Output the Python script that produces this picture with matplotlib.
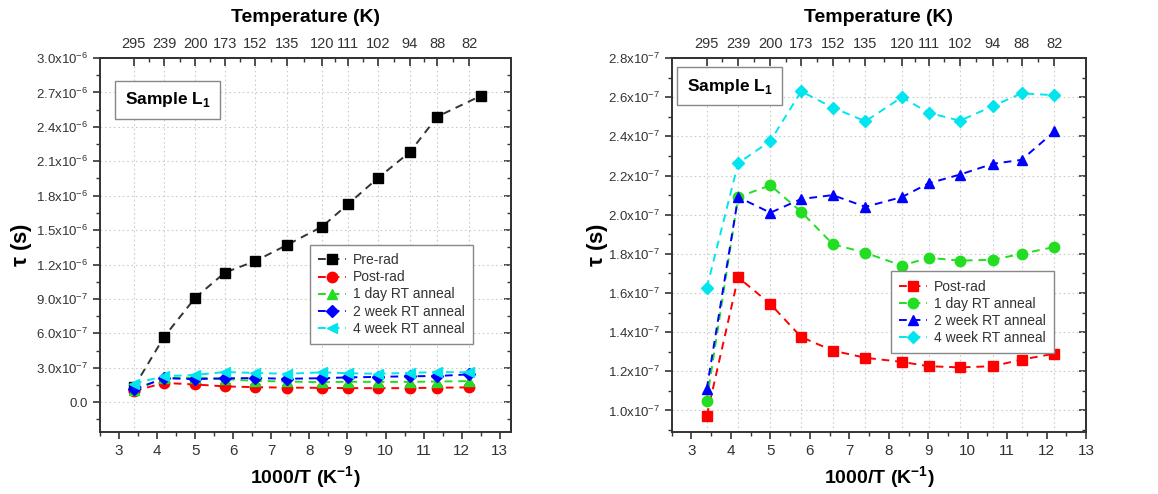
import matplotlib
matplotlib.use('Agg')
import matplotlib.pyplot as plt
from matplotlib.ticker import FixedLocator, MultipleLocator, FuncFormatter
import numpy as np

plt.rcParams['font.family'] = ['Liberation Sans', 'DejaVu Sans']
plt.rcParams['mathtext.fontset'] = 'custom'
plt.rcParams['mathtext.rm'] = 'Liberation Sans'
plt.rcParams['mathtext.bf'] = 'Liberation Sans:bold'

# temperatures (K) of the measurements, top axis labels
temps = [295, 239, 200, 173, 152, 135, 120, 111, 102, 94, 88, 82]
pre_temps = [295, 239, 200, 173, 152, 135, 120, 111, 102, 94, 88, 80]

# lifetimes tau (s)
pre_rad = [1.3e-7, 5.7e-7, 9.1e-7, 1.13e-6, 1.23e-6, 1.37e-6, 1.53e-6, 1.725e-6,
           1.955e-6, 2.18e-6, 2.49e-6, 2.67e-6]
post_rad = [0.973e-7, 1.68e-7, 1.544e-7, 1.375e-7, 1.306e-7, 1.269e-7, 1.248e-7,
            1.226e-7, 1.22e-7, 1.226e-7, 1.26e-7, 1.29e-7]
day1 = [1.05e-7, 2.09e-7, 2.15e-7, 2.015e-7, 1.85e-7, 1.805e-7, 1.74e-7, 1.78e-7,
        1.765e-7, 1.77e-7, 1.80e-7, 1.835e-7]
week2 = [1.11e-7, 2.09e-7, 2.01e-7, 2.08e-7, 2.10e-7, 2.04e-7, 2.09e-7, 2.16e-7,
         2.205e-7, 2.26e-7, 2.28e-7, 2.425e-7]
week4 = [1.626e-7, 2.263e-7, 2.376e-7, 2.63e-7, 2.547e-7, 2.477e-7, 2.60e-7, 2.52e-7,
         2.48e-7, 2.555e-7, 2.62e-7, 2.61e-7]

x_t = [1000.0 / t for t in temps]
x_pre = [1000.0 / t for t in pre_temps]

BLACK, RED, GREEN, BLUE, CYAN = 'black', '#ff0000', '#22dd22', '#0000ff', '#00e5ee'
TXT = '#333333'


def sci_label(v, pos):
    if abs(v) < 1e-12:
        return '0.0'
    e = int(np.floor(np.log10(abs(v))))
    m = v / 10 ** e
    return r'%.1fx10$^{%d}$' % (m, e)


def style_axes(ax, ylim, ymajor, xlim, ylab_x):
    ax.set_xlim(*xlim)
    ax.set_ylim(*ylim)
    ax.xaxis.set_major_locator(MultipleLocator(1))
    ax.xaxis.set_minor_locator(MultipleLocator(0.5))
    ax.yaxis.set_major_locator(MultipleLocator(ymajor))
    ax.yaxis.set_minor_locator(MultipleLocator(ymajor / 2))
    ax.yaxis.set_major_formatter(FuncFormatter(sci_label))
    ax.tick_params(axis='x', which='both', direction='out', top=False, labelsize=11, colors=TXT, labelcolor=TXT)
    ax.tick_params(axis='y', which='both', direction='out', right=False, labelsize=9.5, colors=TXT, labelcolor=TXT)
    ax.tick_params(which='major', length=5, width=1.2)
    ax.tick_params(which='minor', length=3, width=1.0)
    for s in ax.spines.values():
        s.set_linewidth(1.4)
        s.set_color(TXT)
    # right spine ticks pointing inward
    ry = ax.secondary_yaxis('right')
    ry.yaxis.set_major_locator(MultipleLocator(ymajor))
    ry.yaxis.set_minor_locator(MultipleLocator(ymajor / 2))
    ry.tick_params(which='both', direction='in', labelright=False, colors=TXT)
    ry.tick_params(which='major', length=5, width=1.2)
    ry.tick_params(which='minor', length=3, width=1.0)
    ry.spines['right'].set_linewidth(1.4)
    ry.spines['right'].set_color(TXT)
    # top temperature axis
    top = ax.secondary_xaxis('top')
    top.xaxis.set_major_locator(FixedLocator(x_t))
    top.set_xticklabels([str(t) for t in temps])
    mids = [(a + b) / 2 for a, b in zip(x_t[:-1], x_t[1:])]
    top.xaxis.set_minor_locator(FixedLocator(mids))
    top.tick_params(which='both', direction='in', labelsize=10.5, colors=TXT, labelcolor=TXT, pad=5)
    top.tick_params(which='major', length=6, width=1.2)
    top.tick_params(which='minor', length=3, width=1.0)
    top.spines['top'].set_linewidth(1.4)
    top.spines['top'].set_color(TXT)
    top.set_xlabel('Temperature (K)', fontsize=14, fontweight='bold', labelpad=11)
    # dotted grid: vertical at temperature positions, horizontal at major y ticks
    for xv in x_t:
        ax.axvline(xv, color='#cccccc', lw=0.8, ls=(0, (1.5, 2.5)), zorder=0)
    ax.yaxis.grid(True, color='#cccccc', lw=0.8, ls=(0, (1.5, 2.5)), zorder=0)
    ax.set_xlabel(r'1000/T (K$^{\mathbf{-1}}$)', fontsize=14, fontweight='bold', labelpad=5)
    ax.set_ylabel(r'$\mathbf{\tau}$ (s)', fontsize=16, fontweight='bold', va='center')
    ax.yaxis.set_label_coords(ylab_x, 0.5)


fig = plt.figure(figsize=(11.58, 4.94), dpi=100)
axL = fig.add_axes([0.0864, 0.1255, 0.355, 0.757])
axR = fig.add_axes([0.580, 0.1255, 0.358, 0.757])

kw = dict(ls='--', lw=1.4, markersize=7.5, dashes=(4, 3))
legkw = dict(loc='upper left', fontsize=10, frameon=True, fancybox=False, framealpha=1,
             edgecolor='#888888', handlelength=2.0, labelspacing=0.22, borderpad=0.6,
             handletextpad=0.5, borderaxespad=0)

# left panel
style_axes(axL, (-0.26e-6, 3.0e-6), 0.3e-6, (2.5, 13.3), -0.19)
axL.plot(x_pre, pre_rad, color='#333333', marker='s', mfc=BLACK, mec=BLACK, label='Pre-rad', **kw)
axL.plot(x_t, post_rad, color=RED, marker='o', label='Post-rad', **kw)
axL.plot(x_t, day1, color=GREEN, marker='^', label='1 day RT anneal', **kw)
axL.plot(x_t, week2, color=BLUE, marker='D', markersize=6.5, ls='--', lw=1.4, dashes=(4, 3), label='2 week RT anneal')
axL.plot(x_t, week4, color=CYAN, marker='<', label='4 week RT anneal', **kw)
legL = axL.legend(bbox_to_anchor=(0.51, 0.50), **legkw)
legL.get_frame().set_linewidth(1.0)
for t in legL.get_texts():
    t.set_color(TXT)
axL.text(0.165, 0.888, r'Sample L$_{\mathbf{1}}$', transform=axL.transAxes, fontsize=12.5,
         fontweight='bold', ha='center', va='center',
         bbox=dict(boxstyle='square,pad=0.55', fc='white', ec='#888888', lw=1.0))

# right panel
style_axes(axR, (0.89e-7, 2.8e-7), 0.2e-7, (2.5, 13.0), -0.178)
axR.plot(x_t, post_rad, color=RED, marker='s', markersize=7, label='Post-rad', ls='--', lw=1.4, dashes=(4, 3))
axR.plot(x_t, day1, color=GREEN, marker='o', label='1 day RT anneal', **kw)
axR.plot(x_t, week2, color=BLUE, marker='^', label='2 week RT anneal', **kw)
axR.plot(x_t, week4, color=CYAN, marker='D', markersize=6.5, ls='--', lw=1.4, dashes=(4, 3), label='4 week RT anneal')
legR = axR.legend(bbox_to_anchor=(0.529, 0.43), **legkw)
legR.get_frame().set_linewidth(1.0)
for t in legR.get_texts():
    t.set_color(TXT)
axR.text(0.14, 0.925, r'Sample L$_{\mathbf{1}}$', transform=axR.transAxes, fontsize=12.5,
         fontweight='bold', ha='center', va='center',
         bbox=dict(boxstyle='square,pad=0.55', fc='white', ec='#888888', lw=1.0))

fig.savefig('out.png', dpi=100)
